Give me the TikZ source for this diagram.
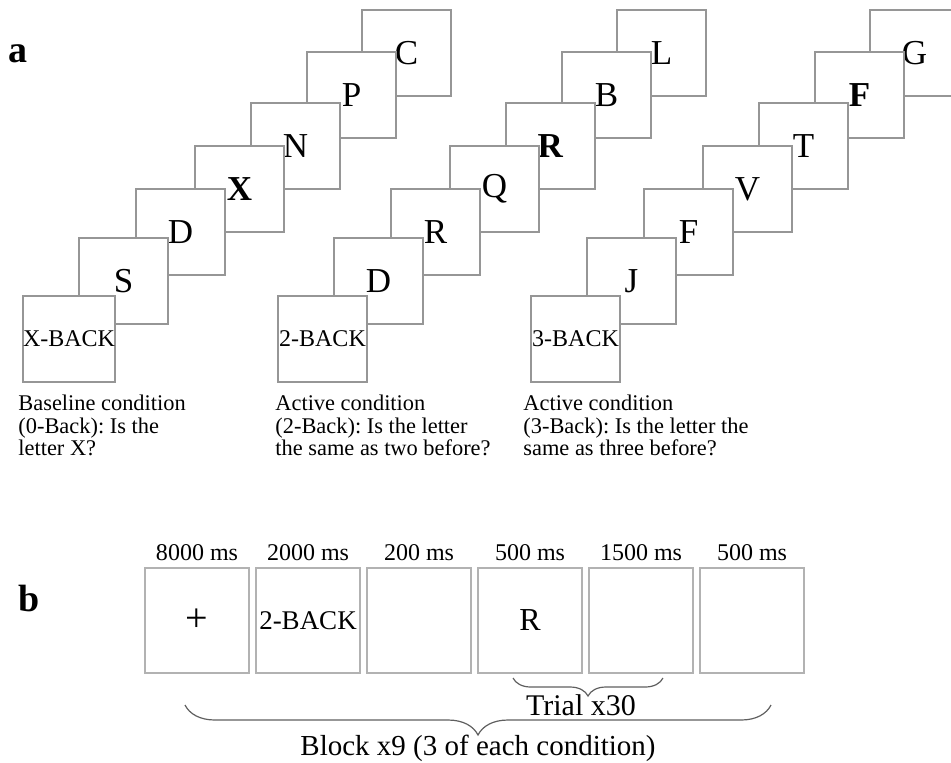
\documentclass[tikz,border=0pt]{standalone}
\usepackage{fontspec}
\setmainfont{Liberation Serif}
\usetikzlibrary{positioning, decorations.pathreplacing}
\definecolor{cardgray}{RGB}{150,150,150}
\definecolor{framegray}{RGB}{178,178,178}
\definecolor{bracegray}{RGB}{95,95,95}
\frenchspacing

\begin{document}
\begin{tikzpicture}[x=0.5pt, y=-0.5pt,
  card/.style={draw=cardgray, fill=white, line width=0.9pt, minimum width=44.5pt, minimum height=43pt,
    inner sep=0pt, outer sep=0pt, anchor=north west, font=\fontsize{17.5}{18}\selectfont},
  cue/.style={font=\fontsize{12}{12}\selectfont},
  capt/.style={anchor=north west, inner sep=0pt, align=left, font=\fontsize{11.2}{11.2}\selectfont},
  panel/.style={anchor=base, inner sep=0pt, font=\fontsize{19}{19}\selectfont\bfseries},
  frame/.style={draw=framegray, fill=white, line width=0.9pt, minimum width=52pt, minimum height=52.5pt,
    inner sep=0pt, outer sep=0pt},
  tlab/.style={inner sep=0pt, font=\fontsize{12}{12}\selectfont},
  brc/.style={draw=bracegray, line width=0.6pt, decorate},
  brlab/.style={anchor=base, inner sep=0pt, font=\fontsize{15}{15}\selectfont}]
\useasboundingbox (0,0) rectangle (951,762);
\clip (0,0) rectangle (951,762);

% a: the three letter streams, back to front
\node[panel] (pa) at (18,62) {a};
\foreach \i/\x/\y/\t in {6/362/10/C, 5/307/52/P, 4/251/103/N, 3/195/146/\textbf{X}, 2/136/189/D, 1/79/238/S}
  \node[card] (xb\i) at (\x,\y) {\t};
\node[card, cue] (xb0) at (23,296) {X-BACK};

\foreach \i/\x/\y/\t in {6/362/10/L, 5/307/52/B, 4/251/103/\textbf{R}, 3/195/146/Q, 2/136/189/R, 1/79/238/D}
  \node[card] (tb\i) at (\x+255,\y) {\t};
\node[card, cue] (tb0) at (278,296) {2-BACK};

\foreach \i/\x/\y/\t in {6/362/10/G, 5/307/52/\textbf{F}, 4/251/103/T, 3/195/146/V, 2/136/189/F, 1/79/238/J}
  \node[card] (hb\i) at (\x+508,\y) {\t};
\node[card, cue] (hb0) at (531,296) {3-BACK};

\node[capt] (cap1) at (18,395) {Baseline condition\\(0-Back): Is the\\letter X?};
\node[capt] (cap2) at (275,395) {Active condition\\(2-Back): Is the letter\\the same as two before?};
\node[capt] (cap3) at (523,395) {Active condition\\(3-Back): Is the letter the\\same as three before?};

% b: one block
\node[panel] (pb) at (29,611) {b};
\node[frame, anchor=north west, font=\fontsize{20}{20}\selectfont] (s1) at (145,568) {+};
\node[frame, right=3.5pt of s1, font=\fontsize{13.5}{14}\selectfont] (s2) {2-BACK};
\node[frame, right=3.5pt of s2] (s3) {};
\node[frame, right=3.5pt of s3, font=\fontsize{16}{16}\selectfont] (s4) {R};
\node[frame, right=3.5pt of s4] (s5) {};
\node[frame, right=3.5pt of s5] (s6) {};
\foreach \k/\t in {1/8000 ms, 2/2000 ms, 3/200 ms, 4/500 ms, 5/1500 ms, 6/500 ms}
  \node[tlab, above=3.25pt of s\k] (t\k) {\t};

\coordinate (trl) at (513,678);
\coordinate (trr) at (663,678);
\draw[brc, decoration={brace, mirror, amplitude=9pt}] (trl) -- (trr);
\node[brlab] (trial) at (581,715) {Trial x30};

\coordinate (bkl) at (185,705);
\coordinate (bkr) at (771,705);
\draw[brc, decoration={brace, mirror, amplitude=15pt}] (bkl) -- (bkr);
\node[brlab, font=\fontsize{14.5}{15}\selectfont] (block) at (478,755) {Block x9 (3 of each condition)};
\end{tikzpicture}
\end{document}
